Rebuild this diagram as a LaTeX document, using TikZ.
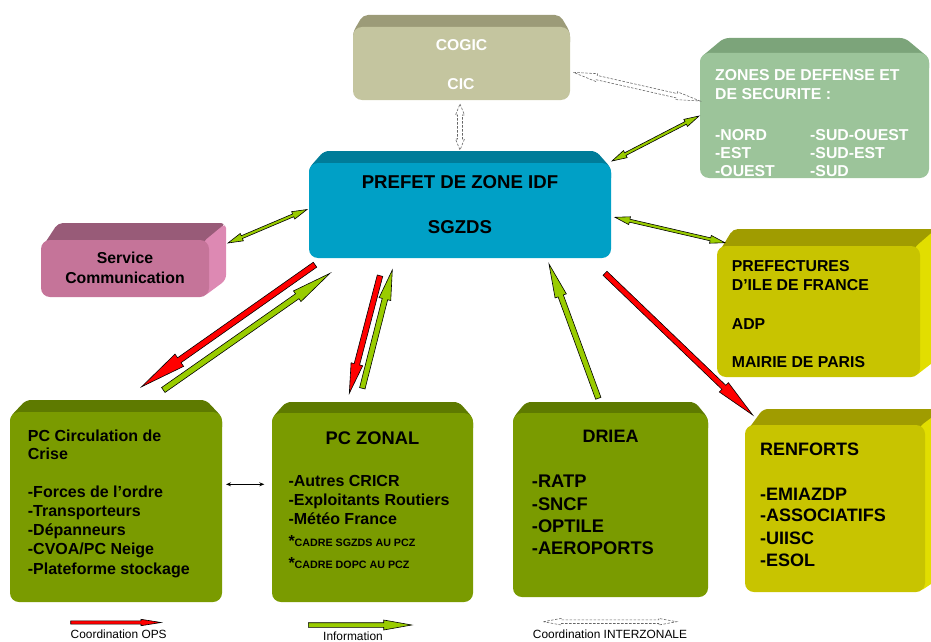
\documentclass[tikz,border=0pt]{standalone}
\usepackage{fontspec}
\setmainfont{Liberation Sans}
\usetikzlibrary{calc,arrows.meta}
\definecolor{cogicF}{HTML}{C4C59F}
\definecolor{cogicT}{HTML}{9C9B78}
\definecolor{prefF}{HTML}{00A0C6}
\definecolor{prefT}{HTML}{007C99}
\definecolor{zonesF}{HTML}{9CC49A}
\definecolor{zonesT}{HTML}{7CA47A}
\definecolor{servF}{HTML}{C57499}
\definecolor{servT}{HTML}{985B78}
\definecolor{servS}{HTML}{DD89B3}
\definecolor{yelF}{HTML}{C8C400}
\definecolor{yelT}{HTML}{A09C00}
\definecolor{yelS}{HTML}{E2DE00}
\definecolor{grnF}{HTML}{7A9B00}
\definecolor{grnT}{HTML}{5E7A00}
\definecolor{arrRed}{HTML}{FF0000}
\definecolor{arrGreen}{HTML}{99CC00}
\newcommand\fsz[1]{\fontsize{#1}{#1}\selectfont}
% bevelled box: name, x1, y1, x2, y2, ytop, inset, front, top
\newcommand\bevelbox[9]{%
  \fill[#9, rounded corners=5pt] (#2,#3+5) -- (#2+#7,#6) -- (#4-#7,#6) -- (#4,#3+5) -- (#4,#3+20) -- (#2,#3+20) -- cycle;
  \node[boxface, fill=#8, minimum width={(#4-#2)*1pt}, minimum height={(#5-#3)*1pt}] (#1) at ({(#2+#4)/2},{(#3+#5)/2}) {};
}
% oblique box: name, x1, y1, x2, y2, dx, dy, colour prefix
\newcommand\obliquebox[8]{%
  \fill[#8T, rounded corners=5pt] (#2+2,#3+6) -- (#2+#6,#3-#7) -- (#4+#6,#3-#7) -- (#4-4,#3+6) -- cycle;
  \fill[#8S, rounded corners=5pt] (#4-6,#3+2) -- (#4+#6,#3-#7) -- (#4+#6,#5-#7) -- (#4-6,#5) -- cycle;
  \node[boxface, fill=#8F, minimum width={(#4-#2)*1pt}, minimum height={(#5-#3)*1pt}] (#1) at ({(#2+#4)/2},{(#3+#5)/2}) {};
}
% single block arrow: style, from, to, half shaft, half head, head length
\newcommand\blockarrow[6]{%
  \coordinate (bah) at ($(#3)!#6!(#2)$);
  \path[#1] ($(#2)!#4!90:(#3)$) -- ($(bah)!#4!90:(#3)$) -- ($(bah)!#5!90:(#3)$) -- (#3) -- ($(bah)!#5!-90:(#3)$) -- ($(bah)!#4!-90:(#3)$) -- ($(#2)!#4!-90:(#3)$) -- cycle;
}
% double block arrow
\newcommand\dblarrow[6]{%
  \coordinate (bha) at ($(#2)!#6!(#3)$);
  \coordinate (bhb) at ($(#3)!#6!(#2)$);
  \path[#1] (#2) -- ($(bha)!#5!90:(#3)$) -- ($(bha)!#4!90:(#3)$) -- ($(bhb)!#4!90:(#3)$) -- ($(bhb)!#5!90:(#3)$) -- (#3) -- ($(bhb)!#5!-90:(#3)$) -- ($(bhb)!#4!-90:(#3)$) -- ($(bha)!#4!-90:(#3)$) -- ($(bha)!#5!-90:(#3)$) -- cycle;
}
\begin{document}
\begin{tikzpicture}[x=1pt,y=-1pt,
  boxface/.style={inner sep=0pt, draw=none, rounded corners=9pt},
  lbl/.style={inner sep=0pt, font=\bfseries},
  redarr/.style={fill=arrRed, draw=black, line width=0.6pt, line join=miter},
  grnarr/.style={fill=arrGreen, draw=black, line width=0.6pt, line join=miter},
  dasharr/.style={fill=white, draw=black!60, line width=0.6pt, dash pattern=on 2.5pt off 1.5pt},
  leg/.style={inner sep=0pt, font=\fsz{11.9}}]
\useasboundingbox (0,0) rectangle (931,642);

% ---------- boxes ----------
\bevelbox{cogic}{353}{27}{570}{100}{15}{10}{cogicF}{cogicT}
\bevelbox{pref}{309}{163}{611}{258}{151}{15}{prefF}{prefT}
\bevelbox{zones}{700}{53}{929}{178}{38}{24}{zonesF}{zonesT}
\obliquebox{serv}{41}{240}{209}{297}{17}{17}{serv}
\obliquebox{prefs}{717}{246}{920}{377}{16}{17}{yel}
\obliquebox{renf}{745}{425}{925}{592}{18}{16}{yel}
\bevelbox{pcc}{10}{412}{222}{602}{400}{16}{grnF}{grnT}
\bevelbox{pcz}{272}{413}{473}{602}{402}{14}{grnF}{grnT}
\bevelbox{driea}{513}{413}{708}{597}{402}{13}{grnF}{grnT}

% ---------- texts ----------
\node[lbl, white, anchor=base, font=\bfseries\fsz{15.7}] (tcogic) at (461.5,51) {COGIC};
\node[lbl, white, anchor=base, font=\bfseries\fsz{15.7}] (tcic) at (461,89) {CIC};

\node[lbl, anchor=base, font=\bfseries\fsz{18.6}] (tpref) at (460,188) {PREFET DE ZONE IDF};
\node[lbl, anchor=base, font=\bfseries\fsz{18.6}] (tsgz) at (460,233) {SGZDS};

\node[lbl, anchor=base, font=\bfseries\fsz{15.8}] (tserv1) at (125,263) {Service};
\node[lbl, anchor=base, font=\bfseries\fsz{15.8}] (tserv2) at (125,283) {Communication};

\begin{scope}[every node/.style={lbl, white, anchor=base west, font=\bfseries\fsz{15.8}}]
\node (tz1) at (715,80.5) {ZONES DE DEFENSE ET};
\node (tz2) at (715,99) {DE SECURITE :};
\node (tz3) at (715,140) {-NORD};
\node (tz4) at (715,158.3) {-EST};
\node (tz5) at (715,176.5) {-OUEST};
\node (tz6) at (810,140) {-SUD-OUEST};
\node (tz7) at (810,158.3) {-SUD-EST};
\node (tz8) at (810,176.5) {-SUD};
\end{scope}

\begin{scope}[every node/.style={lbl, anchor=base west, font=\bfseries\fsz{15.8}}]
\node (tp1) at (731.7,271.5) {PREFECTURES};
\node (tp2) at (731.7,290.5) {D’ILE DE FRANCE};
\node (tp3) at (731.7,329.3) {ADP};
\node (tp4) at (731.7,367.3) {MAIRIE DE PARIS};
\end{scope}

\begin{scope}[every node/.style={lbl, anchor=base west, font=\bfseries\fsz{16}}]
\node (tc1) at (27.7,441.5) {PC Circulation de};
\node (tc2) at (27.7,459.3) {Crise};
\node (tc3) at (27.7,497.3) {-Forces de l’ordre};
\node (tc4) at (27.7,516.3) {-Transporteurs};
\node (tc5) at (27.7,535.3) {-Dépanneurs};
\node (tc6) at (27.7,554.6) {-CVOA/PC Neige};
\node (tc7) at (27.7,574) {-Plateforme stockage};
\end{scope}

\node[lbl, anchor=base, font=\bfseries\fsz{18.3}] (tzonal) at (372.5,444) {PC ZONAL};
\begin{scope}[every node/.style={lbl, anchor=base west, font=\bfseries\fsz{16}}]
\node (tzo1) at (288.3,486.5) {-Autres CRICR};
\node (tzo2) at (288.3,505.7) {-Exploitants Routiers};
\node (tzo3) at (288.3,524.3) {-Météo France};
\node (tzo4) at (288.3,546.7) {*\fsz{10.7}CADRE SGZDS AU PCZ};
\node (tzo5) at (288.3,568.3) {*\fsz{10.7}CADRE DOPC AU PCZ};
\end{scope}

\node[lbl, anchor=base, font=\bfseries\fsz{18}] (tdriea) at (610.5,442.7) {DRIEA};
\begin{scope}[every node/.style={lbl, anchor=base west, font=\bfseries\fsz{18.3}}]
\node (td1) at (531.7,487.3) {-RATP};
\node (td2) at (531.7,510.7) {-SNCF};
\node (td3) at (531.7,532.3) {-OPTILE};
\node (td4) at (531.7,554.5) {-AEROPORTS};
\end{scope}

\begin{scope}[every node/.style={lbl, anchor=base west, font=\bfseries\fsz{18}}]
\node (tr0) at (760,455) {RENFORTS};
\node (tr1) at (760,500) {-EMIAZDP};
\node (tr2) at (760,521.7) {-ASSOCIATIFS};
\node (tr3) at (760,544) {-UIISC};
\node (tr4) at (760,566.7) {-ESOL};
\end{scope}

% ---------- connector end points ----------
\coordinate (servE) at (228,243);
\coordinate (prefW) at (307,209.5);
\coordinate (prefNE) at (612,161);
\coordinate (zonesW) at (699,116);
\coordinate (prefE) at (615,217.3);
\coordinate (prefsW) at (725,242.7);
\coordinate (cogicS) at (460,104);
\coordinate (prefN) at (460,150);
\coordinate (cogicE) at (573.3,72.3);
\coordinate (zonesNW) at (700,101);
\coordinate (prefSW1) at (315,264.7);
\coordinate (pccN1) at (141.7,386.7);
\coordinate (pccN2) at (163.3,390);
\coordinate (prefSW2) at (330,273.3);
\coordinate (prefS1) at (380,275.7);
\coordinate (pczN1) at (349.3,393.3);
\coordinate (pczN2) at (362.3,388.3);
\coordinate (prefS2) at (392.3,270);
\coordinate (drieaN) at (598.3,398.3);
\coordinate (prefS3) at (549,264);
\coordinate (prefSE) at (605,273.3);
\coordinate (renfNW) at (752.7,415);
\coordinate (pccE) at (226,484.3);
\coordinate (pczW) at (264.3,484.3);

% ---------- connectors ----------
\dblarrow{grnarr}{servE}{prefW}{1.5pt}{4pt}{15pt}
\dblarrow{grnarr}{prefNE}{zonesW}{1.5pt}{4pt}{15pt}
\dblarrow{grnarr}{prefE}{prefsW}{1.5pt}{4pt}{15pt}
\dblarrow{dasharr}{cogicS}{prefN}{2.5pt}{4.5pt}{11pt}
\dblarrow{dasharr}{cogicE}{zonesNW}{2.2pt}{4pt}{24pt}
\blockarrow{redarr}{prefSW1}{pccN1}{3pt}{7.5pt}{46pt}
\blockarrow{grnarr}{pccN2}{prefSW2}{3pt}{6.5pt}{40pt}
\blockarrow{redarr}{prefS1}{pczN1}{2.8pt}{6pt}{30pt}
\blockarrow{grnarr}{pczN2}{prefS2}{2.8pt}{6pt}{30pt}
\blockarrow{grnarr}{drieaN}{prefS3}{2.8pt}{6pt}{34pt}
\blockarrow{redarr}{prefSE}{renfNW}{2.8pt}{6.5pt}{40pt}
\draw[line width=1pt, {Stealth[length=5pt,width=4pt,fill=arrGreen]}-{Stealth[length=5pt,width=4pt,fill=arrGreen]}] (pccE) -- (pczW);

% ---------- legend ----------
\coordinate (l1a) at (70.7,622.5);
\coordinate (l1b) at (161,622.5);
\coordinate (l2a) at (308.3,625);
\coordinate (l2b) at (411.7,625);
\coordinate (l3a) at (543.3,621.7);
\coordinate (l3b) at (676.7,621.7);
\blockarrow{redarr}{l1a}{l1b}{1.6pt}{3.2pt}{20pt}
\blockarrow{grnarr}{l2a}{l2b}{2.3pt}{5pt}{28pt}
\dblarrow{dasharr}{l3a}{l3b}{1.8pt}{3.3pt}{18pt}
\node[leg, anchor=base] (leg1) at (118.7,638) {Coordination OPS};
\node[leg, anchor=base] (leg2) at (353,640.5) {Information};
\node[leg, anchor=base] (leg3) at (610,638.3) {Coordination INTERZONALE};
\end{tikzpicture}
\end{document}
